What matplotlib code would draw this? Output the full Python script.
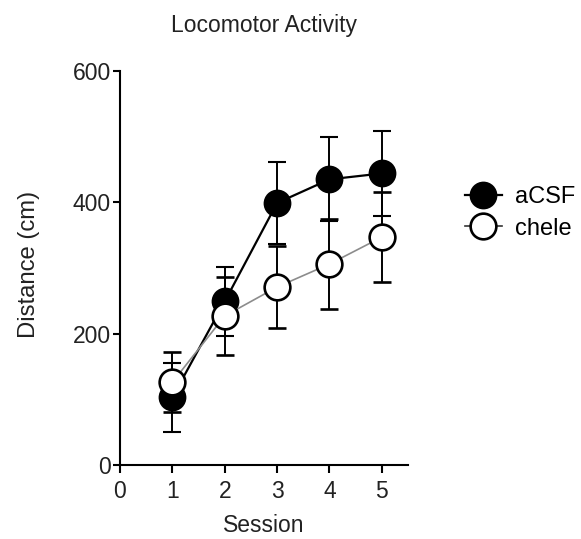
import matplotlib
matplotlib.use("Agg")
import matplotlib.pyplot as plt
from matplotlib.lines import Line2D

plt.rcParams['font.family'] = ['Liberation Sans', 'DejaVu Sans']

sessions = [1, 2, 3, 4, 5]
acsf_mean = [103, 249, 399, 435, 444]
acsf_sem = [53, 52, 62, 64, 65]
chele_mean = [126, 227, 271, 306, 347]
chele_sem = [46, 59, 62, 68, 69]
group_labels = ['aCSF', 'chele']

W, H = 581, 539
fig = plt.figure(figsize=(W / 100, H / 100), dpi=100)
ax_l, ax_r, ax_t, ax_b = 120, 408, 71, 465
ax = fig.add_axes([ax_l / W, (H - ax_b) / H, (ax_r - ax_l) / W, (ax_b - ax_t) / H])

text_col = '#222222'
acsf_style = dict(color='black', lw=1.6, marker='o', markersize=18.5,
                  markerfacecolor='black', markeredgecolor='black',
                  markeredgewidth=1.5)
chele_style = dict(color='#8c8c8c', lw=1.2, marker='o', markersize=18.5,
                   markerfacecolor='white', markeredgecolor='black',
                   markeredgewidth=1.9)
err_style = dict(ecolor='black', elinewidth=1.4, capsize=6.5, capthick=1.4)

ax.errorbar(sessions, acsf_mean, yerr=acsf_sem, zorder=3, **acsf_style, **err_style)
ax.errorbar(sessions, chele_mean, yerr=chele_sem, zorder=4, **chele_style, **err_style)

ax.set_xlim(0, 5.5)
ax.set_ylim(0, 600)
ax.set_xticks([0, 1, 2, 3, 4, 5])
ax.set_yticks([0, 200, 400, 600])
for s in ('top', 'right'):
    ax.spines[s].set_visible(False)
for s in ('left', 'bottom'):
    ax.spines[s].set_linewidth(1.5)
ax.tick_params(direction='out', width=1.5, labelsize=16.5, colors='black',
               labelcolor=text_col)
ax.tick_params(axis='x', length=5.5, pad=5)
ax.tick_params(axis='y', length=5, pad=1.5)

fig.text((ax_l + ax_r) / 2 / W, (H - 32) / H, 'Locomotor Activity',
         fontsize=16.5, color=text_col, ha='center', va='baseline')

ax.set_xlabel('Session', fontsize=16.5, color=text_col, va='baseline')
ax.xaxis.set_label_coords(0.5, (ax_b - 532) / (ax_b - ax_t))
ax.set_ylabel('Distance (cm)', fontsize=17.2, color=text_col, va='center')
ax.yaxis.set_label_coords((29 - ax_l) / (ax_r - ax_l), (ax_b - 264) / (ax_b - ax_t))

handles = [Line2D([], [], **acsf_style), Line2D([], [], **chele_style)]
handles[1].set_color('#333333')
ax.legend(handles, group_labels, loc='center left',
          bbox_to_anchor=(465 / W, (H - 213) / H), bbox_transform=fig.transFigure,
          frameon=False, fontsize=17, handlelength=1.56, handletextpad=0.55,
          labelspacing=0.4, borderpad=0, borderaxespad=0)

fig.savefig('out.png', dpi=100)
